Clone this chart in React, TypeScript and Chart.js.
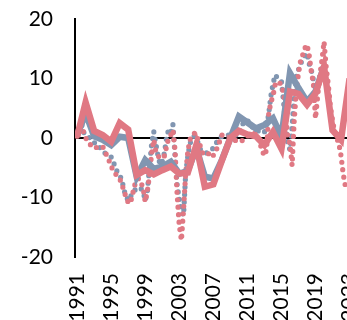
import React, { useEffect, useRef } from "react";
import { Chart, registerables } from "chart.js";

Chart.register(...registerables);

// Annual years
const annualYears = [
  1991, 1992, 1993, 1994, 1995, 1996, 1997, 1998, 1999, 2000, 2001, 2002, 2003,
  2004, 2005, 2006, 2007, 2008, 2009, 2010, 2011, 2012, 2013, 2014, 2015, 2016,
  2017, 2018, 2019, 2020, 2021, 2022, 2023,
];

// Annual series (thick lines)
const redAnnual = [
  0.2, 6.0, 1.2, 0.5, -0.6, 2.5, 1.4, -6.2, -5.4, -6.1, -5.4, -4.8, -6.0, -5.8,
  -1.2, -8.2, -7.8, -3.8, 0.0, 1.2, 0.6, 0.3, -1.2, 1.0, -1.8, 7.8, 7.4, 5.6,
  7.5, 12.0, 1.3, -0.3, 10.0,
];
const blueAnnual = [
  0.5, 4.2, 0.3, -0.3, -1.2, 0.2, 0.0, -6.5, -3.7, -5.2, -4.8, -4.0, -6.0, -5.5,
  -1.7, -6.5, -6.8, -3.7, 0.0, 3.6, 2.6, 1.6, 2.2, 3.3, 0.2, 10.9, 8.4, 6.1, 7.8,
  12.0,
];

// Quarterly series (dotted lines), starting 1991 Q1
const quarterStart = 1991;
const redQuarterly = [
  0.3, 1.5, 2.5, 1.0, // 1991
  0.0, -0.5, -1.0, -1.5, // 1992
  -1.7, -1.6, -1.5, -1.4, // 1993
  -1.4, -2.2, -3.0, -3.8, // 1994
  -4.8, -5.4, -6.0, -6.5, // 1995
  -6.8, -7.8, -8.8, -10.0, // 1996
  -10.8, -11.0, -9.5, -8.0, // 1997
  -7.0, -6.8, -7.5, -8.4, // 1998
  -10.7, -9.0, -6.2, -2.6, // 1999
  -0.3, -2.3, -3.0, -3.4, // 2000
  -3.4, -3.0, -1.5, 0.0, // 2001
  0.5, 1.35, -2.0, -9.6, // 2002
  -14.7, -17.2, -12.0, -6.0, // 2003
  -2.3, -0.3, 0.5, 0.8, // 2004
  0.8, -0.5, -1.5, -2.6, // 2005
  -2.9, -2.8, -2.6, -2.3, // 2006
  -2.9, -2.0, -1.7, -0.5, // 2007
  0.5, 0.5, 0.3, 0.2, // 2008
  0.2, 0.0, -0.3, -0.6, // 2009
  -0.6, -0.6, -0.3, 0.0, // 2010
  0.3, 0.5, 0.8, 0.8, // 2011
  0.8, 0.0, -1.0, -2.2, // 2012
  -3.0, -2.0, 4.0, 6.0, // 2013
  7.0, 8.9, 9.3, 9.5, // 2014
  8.5, 7.8, 4.0, 0.0, // 2015
  -1.0, -4.6, 3.0, 8.0, // 2016
  10.9, 13.0, 14.0, 15.1, // 2017
  15.7, 14.0, 11.2, 9.2, // 2018
  3.3, 7.0, 10.5, 13.0, // 2019
  16.2, 12.0, 9.0, 5.3, // 2020
  3.0, 1.0, 0.0, -1.0, // 2021
  -3.0, -6.0, -8.0, // 2022
];
const blueQuarterly = [
  0.5, 1.5, 2.5, 1.0, // 1991
  0.5, 0.3, 0.0, -0.5, // 1992
  -0.8, -0.9, -1.2, -1.8, // 1993
  -2.2, -2.5, -2.8, -2.9, // 1994
  -3.2, -4.0, -5.0, -5.8, // 1995
  -6.3, -7.0, -8.7, -9.8, // 1996
  -10.5, -10.0, -9.0, -8.8, // 1997
  -8.5, -8.3, -8.5, -9.0, // 1998
  -10.5, -9.0, -4.8, -1.0, // 1999
  1.1, -1.0, -3.0, -4.5, // 2000
  -4.0, -2.5, 0.0, 1.5, // 2001
  1.0, 2.3, -3.0, -7.9, // 2002
  -10.2, -12.4, -13.0, -6.0, // 2003
  -3.0, -1.0, 0.0, 0.3, // 2004
  0.0, -1.0, -2.0, -2.3, // 2005
  -2.5, -2.5, -2.3, -2.0, // 2006
  -1.7, -1.0, -0.5, 0.0, // 2007
  0.3, 0.5, 0.5, 0.5, // 2008
  0.5, 0.5, 0.5, 0.5, // 2009
  0.5, 1.5, 2.5, 3.0, // 2010
  3.0, 2.5, 2.0, 1.5, // 2011
  1.5, 1.2, 1.0, 0.8, // 2012
  1.0, 2.0, 4.0, 7.0, // 2013
  9.0, 10.6, 10.2, 9.8, // 2014
  9.5, 6.0, 2.0, -1.0, // 2015
  -2.0, 2.0, 7.0, 10.5, // 2016
  11.5, 12.5, 13.2, 13.8, // 2017
  14.3, 12.5, 11.5, 9.8, // 2018
  7.0, 7.5, // 2019
];

const xTickYears = [1991, 1995, 1999, 2003, 2007, 2011, 2015, 2019, 2023];
const yTicks = [-20, -10, 0, 10, 20];

const RED = "#E07883";
const BLUE = "#8196B1";

const W = 370;
const H = 320;

export default function App() {
  const ref = useRef<HTMLCanvasElement>(null);

  useEffect(() => {
    document.body.style.margin = "0";
    document.body.style.overflow = "hidden";
    const canvas = ref.current;
    if (!canvas) return;

    const annualPts = (vals: number[]) =>
      vals.map((v, i) => ({ x: annualYears[i], y: v }));
    const quarterPts = (vals: number[]) =>
      vals.map((v, i) => ({ x: quarterStart + i / 4, y: v }));

    const font = { family: "Lato", size: 21 };

    const chart = new Chart(canvas, {
      type: "line",
      data: {
        datasets: [
          {
            data: annualPts(redAnnual),
            borderColor: RED,
            borderWidth: 6.5,
            pointRadius: 0,
            borderJoinStyle: "miter",
            tension: 0,
          },
          {
            data: annualPts(blueAnnual),
            borderColor: BLUE,
            borderWidth: 6.5,
            pointRadius: 0,
            borderJoinStyle: "miter",
            tension: 0,
          },
          {
            data: quarterPts(redQuarterly),
            borderColor: RED,
            borderWidth: 5.2,
            borderDash: [0, 7.5],
            borderCapStyle: "round",
            pointRadius: 0,
            tension: 0,
          },
          {
            data: quarterPts(blueQuarterly),
            borderColor: BLUE,
            borderWidth: 5.2,
            borderDash: [0, 7.5],
            borderCapStyle: "round",
            pointRadius: 0,
            tension: 0,
          },
        ],
      },
      options: {
        responsive: false,
        maintainAspectRatio: false,
        animation: false,
        layout: {
          autoPadding: false,
          padding: { top: 19, left: 0, right: 0, bottom: 0 },
        },
        plugins: { legend: { display: false }, tooltip: { enabled: false } },
        scales: {
          x: {
            type: "linear",
            min: 1990.75,
            max: 2025.4,
            afterBuildTicks: (s: any) => {
              s.ticks = xTickYears.map((v) => ({ value: v }));
            },
            afterFit: (s: any) => {
              s.height = 63;
              s.paddingLeft = 0;
              s.paddingRight = 0;
              s.paddingTop = 0;
              s.paddingBottom = 0;
            },
            grid: { display: false, drawTicks: false },
            border: { display: false },
            ticks: {
              autoSkip: false,
              minRotation: 90,
              maxRotation: 90,
              padding: 16,
              color: "#000",
              font,
              callback: (v: any) => String(v),
            },
          },
          y: {
            min: -20,
            max: 20,
            afterBuildTicks: (s: any) => {
              s.ticks = yTicks.map((v) => ({ value: v }));
            },
            afterFit: (s: any) => {
              s.width = 75;
              s.paddingLeft = 0;
              s.paddingRight = 0;
              s.paddingTop = 0;
              s.paddingBottom = 0;
            },
            grid: {
              drawTicks: false,
              lineWidth: 2,
              color: (c: any) =>
                c.tick && c.tick.value === 0 ? "#000" : "rgba(0,0,0,0)",
            },
            border: { display: true, color: "#000", width: 2 },
            ticks: {
              padding: 22,
              color: "#000",
              font,
              callback: (v: any) => String(v),
            },
          },
        },
      },
    });
    return () => chart.destroy();
  }, []);

  return (
    <div
      style={{
        position: "absolute",
        left: 0,
        top: 0,
        width: W,
        height: H,
        overflow: "hidden",
      }}
    >
      <canvas ref={ref} width={W} height={H} style={{ width: W, height: H }} />
    </div>
  );
}
